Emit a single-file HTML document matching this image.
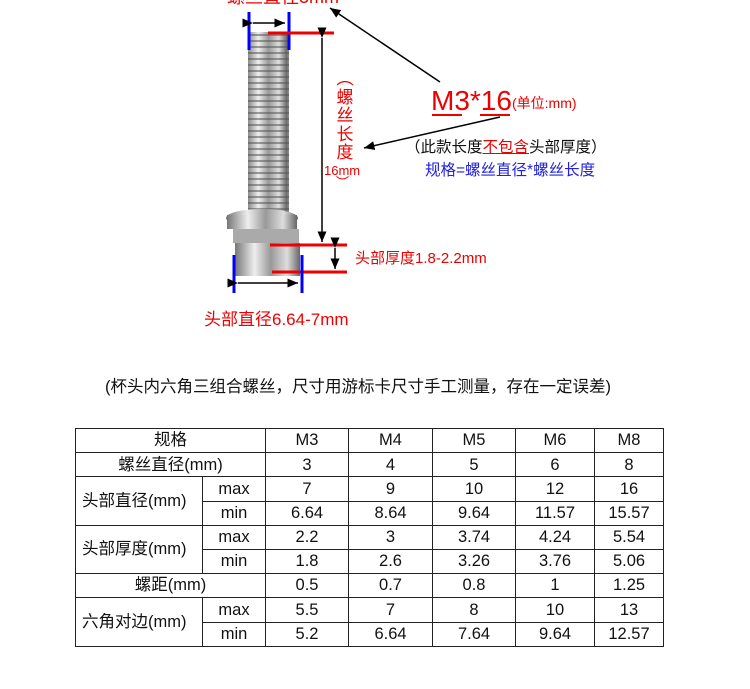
<!DOCTYPE html>
<html><head><meta charset="utf-8"><style>
body{margin:0;width:750px;height:689px;background:#fff;position:relative;overflow:hidden;font-family:"Liberation Sans","Noto Sans CJK SC",sans-serif}
.t{position:absolute;white-space:nowrap;line-height:1}
table{position:absolute;left:75px;top:428px;border-collapse:collapse;font-family:"Liberation Sans","Noto Sans CJK SC",sans-serif;font-size:16.5px;color:#111;table-layout:fixed;width:588px}
td{border:1.5px solid #222;height:23.2px;padding:0;text-align:center;line-height:1}
td.l{text-align:left;padding-left:6px}
</style></head><body>
<svg width="750" height="360" style="position:absolute;left:0;top:0">
<defs>
<linearGradient id="g" x1="0" x2="1"><stop offset="0" stop-color="#777"/><stop offset=".3" stop-color="#eee"/><stop offset=".55" stop-color="#999"/><stop offset=".8" stop-color="#ddd"/><stop offset="1" stop-color="#666"/></linearGradient>
<pattern id="th" width="41" height="6" patternUnits="userSpaceOnUse"><rect width="41" height="6" fill="url(#g)"/><rect y="4" width="41" height="2" fill="#555" opacity=".55"/></pattern>
<marker id="a" markerWidth="8" markerHeight="8" refX="7" refY="4" orient="auto"><path d="M0,1 L7,4 L0,7z" fill="#000"/></marker>
</defs>
<rect x="248" y="32" width="41" height="182" fill="url(#th)"/>
<ellipse cx="262" cy="218" rx="36" ry="9" fill="url(#g)"/>
<rect x="227" y="215" width="70" height="14" fill="url(#g)"/>
<rect x="233" y="229" width="66" height="14" fill="#aaa"/>
<rect x="235" y="243" width="65" height="33" fill="url(#g)"/>
<line x1="249" y1="12" x2="249" y2="50" stroke="#00f" stroke-width="3"/>
<line x1="289" y1="12" x2="289" y2="50" stroke="#00f" stroke-width="3"/>
<line x1="253" y1="23" x2="285" y2="23" stroke="#000" stroke-width="1.5" marker-end="url(#a)" marker-start="url(#a)"/>
<line x1="268" y1="33" x2="334" y2="33" stroke="#e00" stroke-width="3"/>
<line x1="322" y1="38" x2="322" y2="242" stroke="#000" stroke-width="1.5" marker-end="url(#a)" marker-start="url(#a)"/>
<line x1="270" y1="245" x2="347" y2="245" stroke="#e00" stroke-width="3"/>
<line x1="272" y1="272" x2="347" y2="272" stroke="#e00" stroke-width="3"/>
<line x1="335" y1="248" x2="335" y2="269" stroke="#000" stroke-width="1.5" marker-end="url(#a)" marker-start="url(#a)"/>
<line x1="234" y1="255" x2="234" y2="293" stroke="#00f" stroke-width="3"/>
<line x1="302" y1="255" x2="302" y2="293" stroke="#00f" stroke-width="3"/>
<line x1="238" y1="283" x2="298" y2="283" stroke="#000" stroke-width="1.5" marker-end="url(#a)" marker-start="url(#a)"/>
<line x1="440" y1="82" x2="330" y2="8" stroke="#000" stroke-width="1.5" marker-end="url(#a)"/>
<line x1="500" y1="117" x2="364" y2="148" stroke="#000" stroke-width="1.5" marker-end="url(#a)"/>
<line x1="432" y1="115" x2="462" y2="115" stroke="#e00" stroke-width="2"/>
<line x1="480" y1="115" x2="510" y2="115" stroke="#e00" stroke-width="2"/>
</svg>
<div class="t" style="left:227px;top:-12px;font-size:18px;color:#e00">螺丝直径3mm</div>
<div class="t" style="left:335px;top:70px;font-size:17px;color:#e00;width:20px;text-align:center;line-height:18.5px;white-space:normal">︵<br>螺<br>丝<br>长<br>度</div>
<div class="t" style="left:324px;top:164px;font-size:13px;color:#e00">16mm</div>
<div class="t" style="left:336px;top:176px;font-size:13px;color:#e00">︶</div>
<div class="t" style="left:431px;top:87px;font-size:28px;color:#e00">M3*16</div>
<div class="t" style="left:512px;top:96px;font-size:14px;color:#e00">(单位:mm)</div>
<div class="t" style="left:405px;top:140px;font-size:15.5px;color:#111">（此款长度<span style="color:#e00;text-decoration:underline">不包含</span>头部厚度）</div>
<div class="t" style="left:425px;top:163px;font-size:15.5px;color:#22d">规格=螺丝直径*螺丝长度</div>
<div class="t" style="left:355px;top:251px;font-size:15px;color:#e00">头部厚度1.8-2.2mm</div>
<div class="t" style="left:204px;top:311px;font-size:17px;color:#e00">头部直径6.64-7mm</div>
<div class="t" style="left:105px;top:379px;font-size:16.5px;color:#111">(杯头内六角三组合螺丝，尺寸用游标卡尺寸手工测量，存在一定误差)</div>
<table>
<colgroup><col style="width:127px"><col style="width:63px"><col style="width:83px"><col style="width:84px"><col style="width:83px"><col style="width:79px"><col style="width:69px"></colgroup>
<tr><td colspan="2">规格</td><td>M3</td><td>M4</td><td>M5</td><td>M6</td><td>M8</td></tr>
<tr><td colspan="2">螺丝直径(mm)</td><td>3</td><td>4</td><td>5</td><td>6</td><td>8</td></tr>
<tr><td rowspan="2" class="l">头部直径(mm)</td><td>max</td><td>7</td><td>9</td><td>10</td><td>12</td><td>16</td></tr>
<tr><td>min</td><td>6.64</td><td>8.64</td><td>9.64</td><td>11.57</td><td>15.57</td></tr>
<tr><td rowspan="2" class="l">头部厚度(mm)</td><td>max</td><td>2.2</td><td>3</td><td>3.74</td><td>4.24</td><td>5.54</td></tr>
<tr><td>min</td><td>1.8</td><td>2.6</td><td>3.26</td><td>3.76</td><td>5.06</td></tr>
<tr><td colspan="2">螺距(mm)</td><td>0.5</td><td>0.7</td><td>0.8</td><td>1</td><td>1.25</td></tr>
<tr><td rowspan="2" class="l">六角对边(mm)</td><td>max</td><td>5.5</td><td>7</td><td>8</td><td>10</td><td>13</td></tr>
<tr><td>min</td><td>5.2</td><td>6.64</td><td>7.64</td><td>9.64</td><td>12.57</td></tr>
</table>
</body></html>
